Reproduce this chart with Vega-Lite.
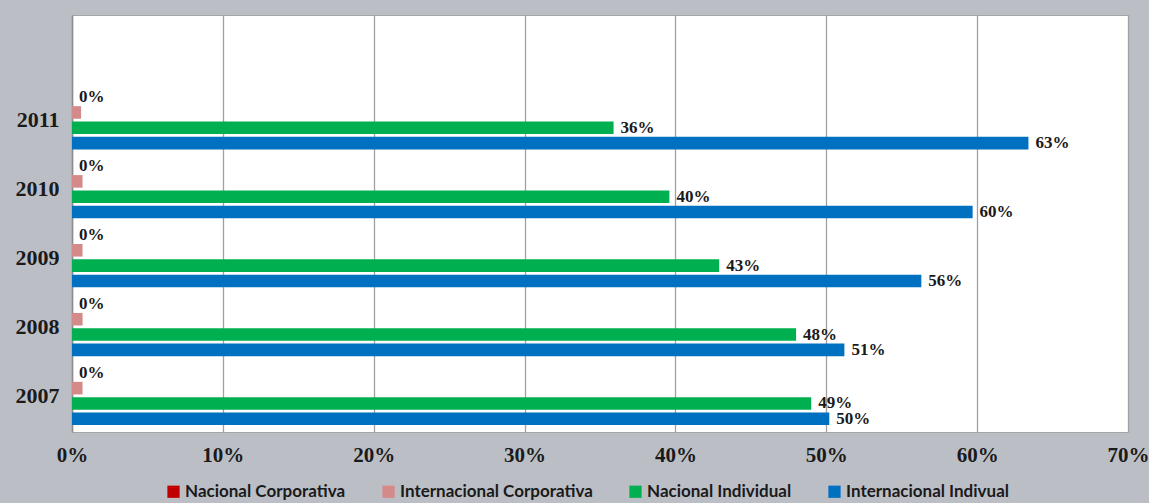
{
  "$schema": "https://vega.github.io/schema/vega-lite/v6.json",
  "width": 1056,
  "height": 417,
  "autosize": {"type": "none"},
  "padding": {"left": 72, "top": 15, "right": 21, "bottom": 71},
  "background": "#bcbec6",
  "config": {
    "view": {"fill": "white", "stroke": "#a6a6a6", "strokeWidth": 1},
    "axis": {"labelFont": "Liberation Serif", "labelFontWeight": "bold", "labelFontSize": 21, "labelColor": "#1a1a1a"}
  },
  "data": {
    "values": [
      {"year": "2011", "series": "Nacional Corporativa", "value": 0},
      {"year": "2011", "series": "Internacional Corporativa", "value": 0.006},
      {"year": "2011", "series": "Nacional Individual", "value": 0.359},
      {"year": "2011", "series": "Internacional Indivual", "value": 0.634},
      {"year": "2010", "series": "Nacional Corporativa", "value": 0},
      {"year": "2010", "series": "Internacional Corporativa", "value": 0.007},
      {"year": "2010", "series": "Nacional Individual", "value": 0.396},
      {"year": "2010", "series": "Internacional Indivual", "value": 0.597},
      {"year": "2009", "series": "Nacional Corporativa", "value": 0},
      {"year": "2009", "series": "Internacional Corporativa", "value": 0.007},
      {"year": "2009", "series": "Nacional Individual", "value": 0.429},
      {"year": "2009", "series": "Internacional Indivual", "value": 0.563},
      {"year": "2008", "series": "Nacional Corporativa", "value": 0},
      {"year": "2008", "series": "Internacional Corporativa", "value": 0.007},
      {"year": "2008", "series": "Nacional Individual", "value": 0.48},
      {"year": "2008", "series": "Internacional Indivual", "value": 0.512},
      {"year": "2007", "series": "Nacional Corporativa", "value": 0},
      {"year": "2007", "series": "Internacional Corporativa", "value": 0.007},
      {"year": "2007", "series": "Nacional Individual", "value": 0.49},
      {"year": "2007", "series": "Internacional Indivual", "value": 0.502}
    ]
  },
  "encoding": {
    "y": {
      "field": "year", "type": "nominal", "title": null,
      "scale": {"domain": [" ", "2011", "2010", "2009", "2008", "2007"], "paddingInner": 0.15, "paddingOuter": 0.1},
      "axis": {"ticks": false, "labelPadding": 13, "labelFontSize": 22, "domainColor": "#8c8c8c", "domainWidth": 1.5}
    },
    "yOffset": {
      "field": "series", "type": "nominal",
      "sort": ["Nacional Corporativa", "Internacional Corporativa", "Nacional Individual", "Internacional Indivual"],
      "scale": {"paddingInner": 0.18}
    },
    "x": {
      "field": "value", "type": "quantitative", "title": null,
      "scale": {"domain": [0, 0.7], "nice": false},
      "axis": {"format": ".0%", "values": [0, 0.1, 0.2, 0.3, 0.4, 0.5, 0.6, 0.7], "grid": true, "gridColor": "#a0a0a0", "gridWidth": 1.3, "ticks": false, "domain": false, "labelPadding": 12, "labelFlush": false}
    }
  },
  "layer": [
    {
      "mark": {"type": "bar"},
      "encoding": {
        "color": {
          "field": "series", "type": "nominal",
          "scale": {"domain": ["Nacional Corporativa", "Internacional Corporativa", "Nacional Individual", "Internacional Indivual"], "range": ["#c00000", "#d58a8a", "#00b050", "#0070c0"]},
          "legend": {"orient": "none", "legendX": 93, "legendY": 468, "direction": "horizontal", "title": null, "symbolType": "square", "symbolSize": 150, "symbolStrokeWidth": 0, "labelFont": "Lato", "labelFontWeight": "bold", "labelFontSize": 17, "labelLimit": 400, "labelColor": "#1a1a1a", "columnPadding": 34, "labelOffset": 3, "padding": 0}
        }
      }
    },
    {
      "transform": [{"filter": "datum.series !== 'Internacional Corporativa'"}],
      "mark": {"type": "text", "align": "left", "baseline": "middle", "dx": 7, "font": "Liberation Serif", "fontWeight": "bold", "fontSize": 17, "color": "#1a1a1a"},
      "encoding": {
        "text": {"field": "value", "type": "quantitative", "format": ".0%"}
      }
    }
  ]
}
